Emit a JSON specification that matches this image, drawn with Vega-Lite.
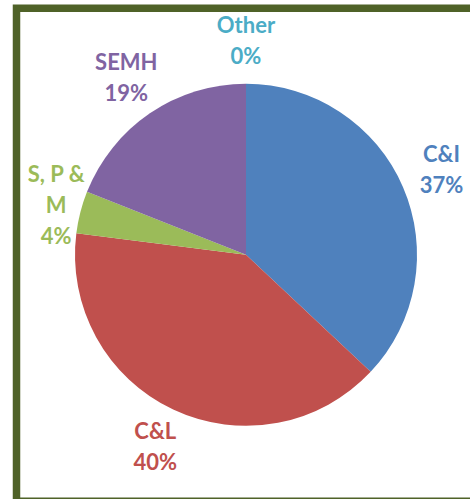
{
  "$schema": "https://vega.github.io/schema/vega-lite/v6.json",
  "autosize": {"type": "none"},
  "padding": {"left": 16.5, "top": 8.3, "right": 0, "bottom": 0},
  "width": 459,
  "height": 493,
  "background": "white",
  "data": {
    "values": [
      {"category": "C&I", "value": 37, "k": 1, "lines": 2, "label": "C&I\n37%"},
      {"category": "C&L", "value": 40, "k": 2, "lines": 2, "label": "C&L\n40%"},
      {"category": "S, P & M", "value": 4, "k": 3, "lines": 3, "label": "S, P &\nM\n4%"},
      {"category": "SEMH", "value": 19, "k": 4, "lines": 2, "label": "SEMH\n19%"},
      {"category": "Other", "value": 0, "k": 5, "lines": 2, "label": "Other\n0%"}
    ]
  },
  "transform": [
    {"stack": "value", "groupby": [], "sort": [{"field": "k", "order": "ascending"}], "as": ["v0", "v1"]},
    {"calculate": "(datum.v0 + datum.v1) / 2", "as": "mid"}
  ],
  "layer": [
    {
      "data": {"values": [{"frame": 1}]},
      "transform": [],
      "mark": {"type": "rect", "fill": "white", "stroke": "#4F6228", "strokeWidth": 7.5},
      "encoding": {}
    },
    {
      "mark": {"type": "arc", "outerRadius": 171},
      "encoding": {
        "theta": {"field": "v0", "type": "quantitative", "stack": null, "scale": {"domain": [0, 100]}},
        "theta2": {"field": "v1"},
        "color": {
          "field": "category",
          "type": "nominal",
          "scale": {
            "domain": ["C&I", "C&L", "S, P & M", "SEMH", "Other"],
            "range": ["#4F81BD", "#C0504D", "#9BBB59", "#8064A2", "#4BACC6"]
          },
          "legend": null
        }
      }
    },
    {
      "transform": [{"filter": "datum.lines == 2"}],
      "mark": {
        "type": "text",
        "radius": 213,
        "dy": -15.5,
        "font": "Lato",
        "fontWeight": "bold",
        "fontSize": 22,
        "lineHeight": 31,
        "lineBreak": "\n",
        "align": "center",
        "baseline": "middle"
      },
      "encoding": {
        "theta": {"field": "mid", "type": "quantitative", "stack": null, "scale": {"domain": [0, 100]}},
        "color": {"field": "category", "type": "nominal", "legend": null},
        "text": {"field": "label", "type": "nominal"}
      }
    },
    {
      "transform": [{"filter": "datum.lines == 3"}],
      "mark": {
        "type": "text",
        "radius": 196,
        "dy": -31,
        "font": "Lato",
        "fontWeight": "bold",
        "fontSize": 22,
        "lineHeight": 31,
        "lineBreak": "\n",
        "align": "center",
        "baseline": "middle"
      },
      "encoding": {
        "theta": {"field": "mid", "type": "quantitative", "stack": null, "scale": {"domain": [0, 100]}},
        "color": {"field": "category", "type": "nominal", "legend": null},
        "text": {"field": "label", "type": "nominal"}
      }
    }
  ]
}
